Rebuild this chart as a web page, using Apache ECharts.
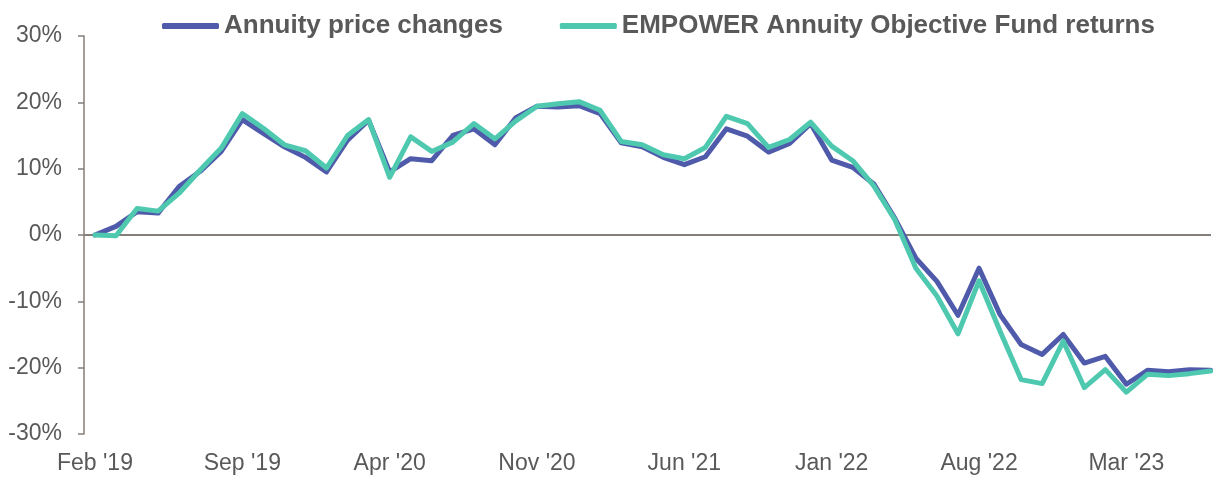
<!DOCTYPE html>
<html>
<head>
<meta charset="utf-8">
<script src="https://cdn.jsdelivr.net/npm/echarts@6/dist/echarts.min.js"></script>
<style>
html,body{margin:0;padding:0;background:#fff;}
#chart{width:1214px;height:477px;}
</style>
</head>
<body>
<div id="chart"></div>
<script>
const months = ["Feb '19","Mar '19","Apr '19","May '19","Jun '19","Jul '19","Aug '19","Sep '19","Oct '19","Nov '19","Dec '19",
"Jan '20","Feb '20","Mar '20","Apr '20","May '20","Jun '20","Jul '20","Aug '20","Sep '20","Oct '20","Nov '20","Dec '20",
"Jan '21","Feb '21","Mar '21","Apr '21","May '21","Jun '21","Jul '21","Aug '21","Sep '21","Oct '21","Nov '21","Dec '21",
"Jan '22","Feb '22","Mar '22","Apr '22","May '22","Jun '22","Jul '22","Aug '22","Sep '22","Oct '22","Nov '22","Dec '22",
"Jan '23","Feb '23","Mar '23","Apr '23","May '23","Jun '23","Jul '23"];
const xTickLabels = ["Feb '19","Sep '19","Apr '20","Nov '20","Jun '21","Jan '22","Aug '22","Mar '23"];
const annuityPrice = [0,1.3,3.5,3.3,7.3,9.6,12.6,17.4,15.3,13.3,11.7,9.5,14.3,17.3,9.5,11.5,11.2,15.0,16.0,13.6,17.7,19.4,19.3,
19.5,18.3,13.9,13.3,11.7,10.6,11.8,16.0,14.9,12.5,13.8,16.8,11.3,10.2,7.7,2.5,-3.5,-7.0,-12.1,-5.0,-12.0,-16.5,-18.0,-15.0,
-19.3,-18.3,-22.5,-20.4,-20.6,-20.3,-20.4];
const fundReturns = [0,-0.1,4.0,3.6,6.3,9.8,13.1,18.3,16.1,13.6,12.7,10.1,15.0,17.4,8.7,14.8,12.6,14.0,16.8,14.5,17.2,19.4,19.8,
20.1,18.8,14.1,13.6,12.1,11.5,13.2,17.9,16.8,13.2,14.4,17.0,13.4,11.2,7.4,2.3,-5.0,-9.2,-14.9,-6.9,-14.5,-21.8,-22.4,-16.0,
-23.0,-20.3,-23.7,-21.0,-21.2,-20.9,-20.5];
const yTicks = [-30,-20,-10,0,10,20,30];

const tickIdx = xTickLabels.map(l => months.indexOf(l));
const pairs = arr => arr.map((v, i) => [i, v]);
const FONT = "'Liberation Sans', Arial, sans-serif";
const AXIS_COLOR = '#847e78';

const chart = echarts.init(document.getElementById('chart'), null, {renderer: 'canvas'});
chart.setOption({
  animation: false,
  backgroundColor: '#ffffff',
  grid: {left: 84, right: 3, top: 36, bottom: 43, containLabel: false},
  legend: {
    left: 157, top: 8,
    icon: 'roundRect',
    itemWidth: 57, itemHeight: 6, itemGap: 57,
    textStyle: {fontFamily: FONT, fontSize: 26, fontWeight: 'bold', color: '#595959'},
    data: ['Annuity price changes', 'EMPOWER Annuity Objective Fund returns']
  },
  xAxis: {
    type: 'value',
    min: -0.52, max: 53.02,
    axisLine: {show: false, onZero: false},
    axisTick: {show: false},
    splitLine: {show: false},
    axisLabel: {
      customValues: tickIdx,
      formatter: v => months[Math.round(v)] || '',
      fontFamily: FONT, fontSize: 23, color: '#595959', margin: 18
    }
  },
  yAxis: {
    type: 'value',
    min: yTicks[0], max: yTicks[yTicks.length - 1], interval: 10,
    axisLine: {show: true, onZero: false, lineStyle: {color: AXIS_COLOR, width: 1.5}},
    axisTick: {show: true, length: 6, lineStyle: {color: AXIS_COLOR, width: 1.5}},
    splitLine: {show: false},
    axisLabel: {formatter: '{value}%', fontFamily: FONT, fontSize: 23, color: '#595959', margin: 22}
  },
  series: [
    {
      name: 'Annuity price changes',
      type: 'line',
      data: pairs(annuityPrice),
      symbol: 'none',
      z: 3,
      itemStyle: {color: '#4f5baa'},
      lineStyle: {color: '#4f5baa', width: 5, join: 'round', cap: 'round'},
      markLine: {
        silent: true, symbol: 'none', z: 1,
        label: {show: false},
        lineStyle: {color: AXIS_COLOR, width: 2, type: 'solid'},
        emphasis: {disabled: true},
        data: [{yAxis: 0}]
      }
    },
    {
      name: 'EMPOWER Annuity Objective Fund returns',
      type: 'line',
      data: pairs(fundReturns),
      symbol: 'none',
      z: 4,
      itemStyle: {color: '#4ec9b0'},
      lineStyle: {color: '#4ec9b0', width: 5, join: 'round', cap: 'round'}
    }
  ]
});
</script>
</body>
</html>
